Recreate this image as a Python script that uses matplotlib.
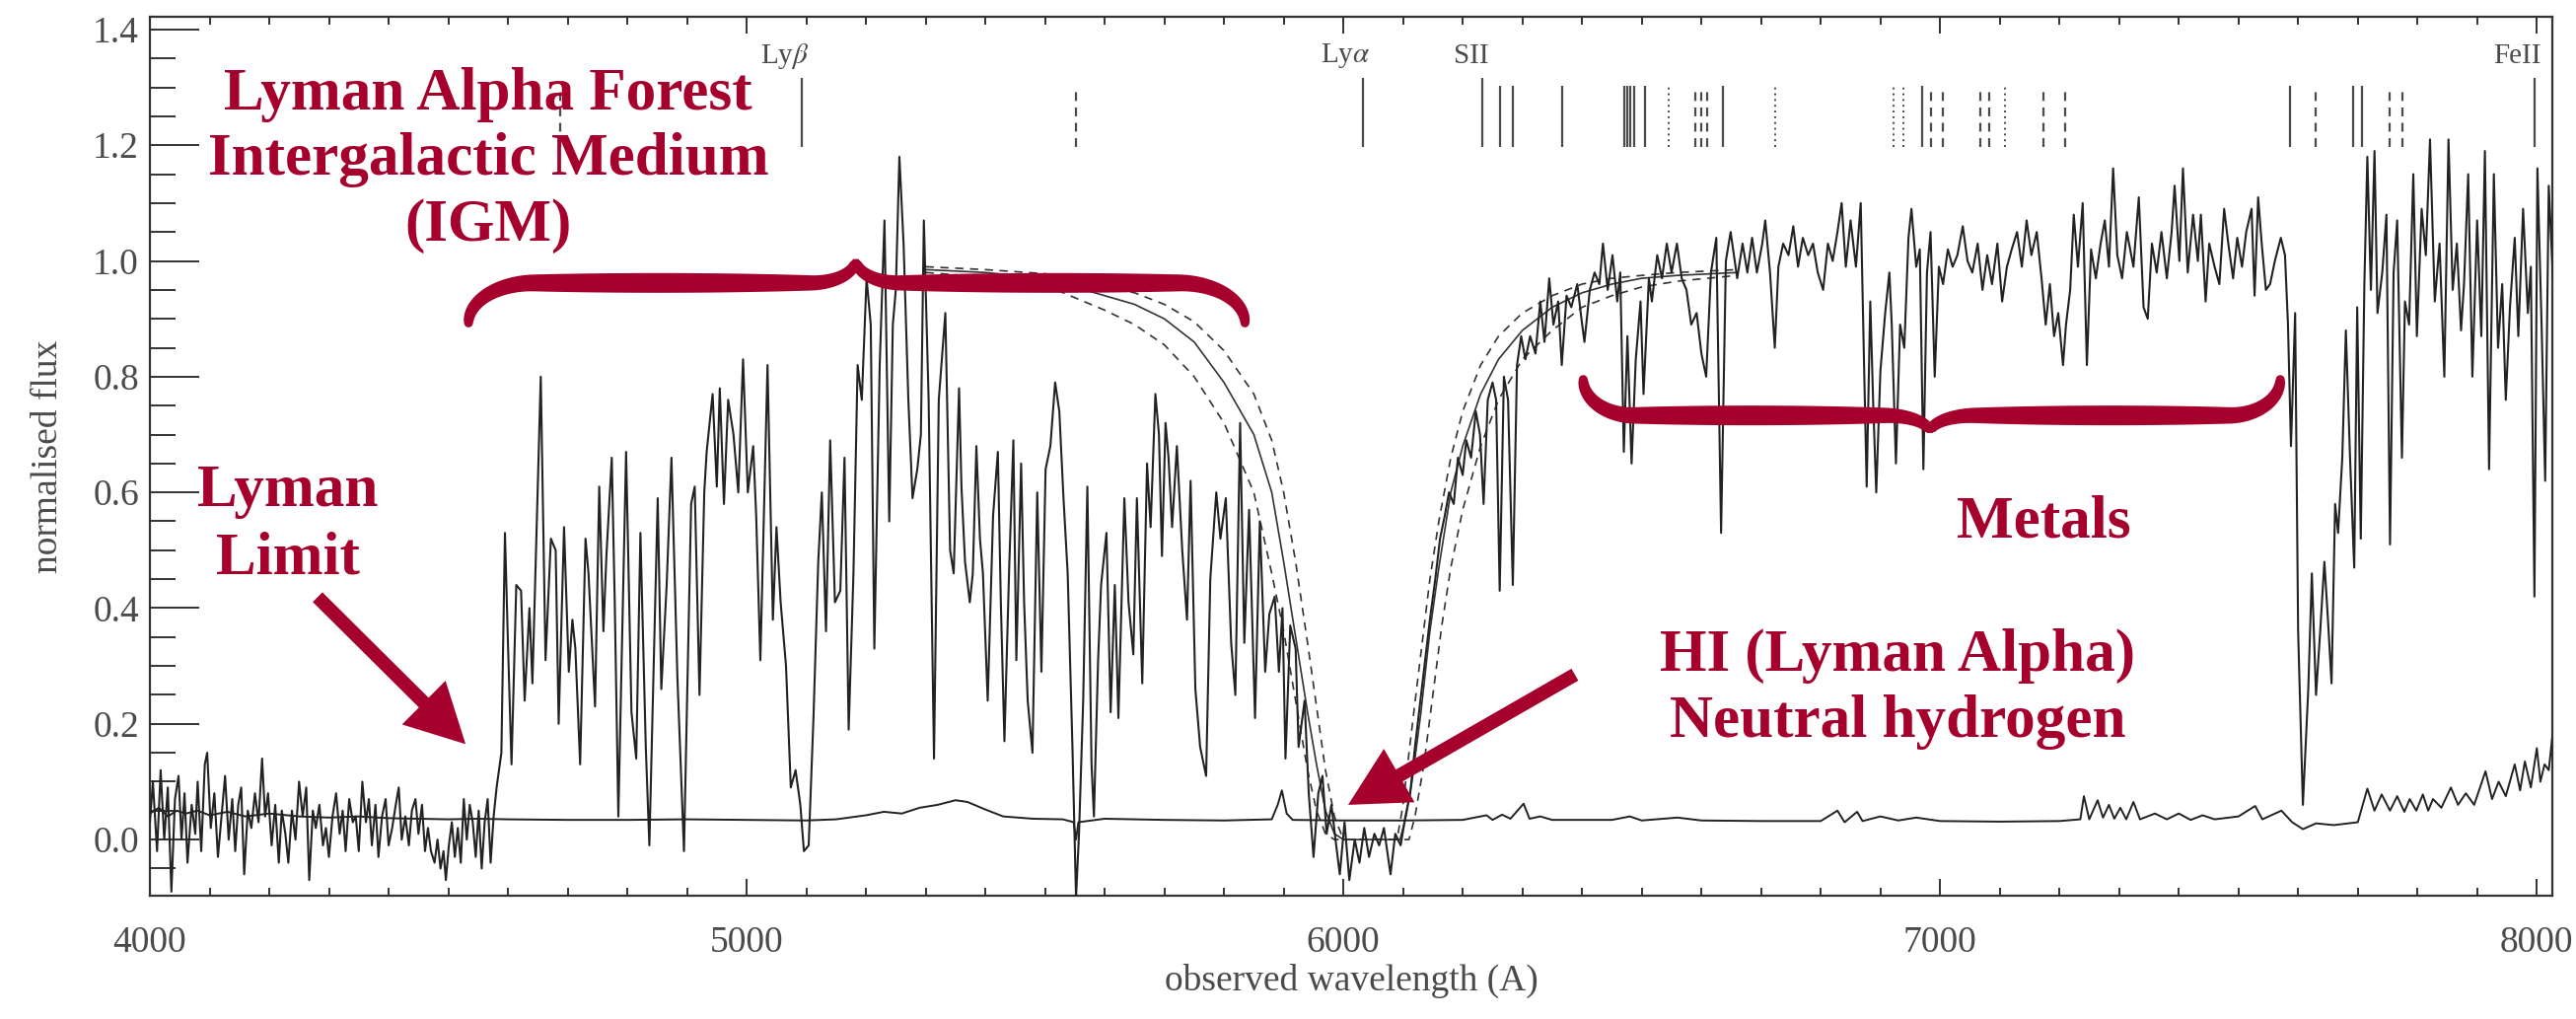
import numpy as np
import matplotlib
matplotlib.use('Agg')
import matplotlib.pyplot as plt
import matplotlib.ticker as mticker
from matplotlib.patches import Polygon, FancyArrowPatch

plt.rcParams['font.family'] = ['Liberation Serif', 'DejaVu Serif']
plt.rcParams['mathtext.fontset'] = 'stix'

# observed spectrum, (wavelength A, normalised flux)
blue_side = [(4000, 0.03), (4005, 0.10), (4012, -0.02), (4018, 0.12), (4024, 0.00), (4030, 0.09),
             (4036, -0.09), (4042, 0.07), (4048, 0.11), (4053, 0.00), (4058, 0.08), (4063, -0.04),
             (4070, 0.06), (4076, 0.01), (4080, 0.10), (4086, -0.02), (4092, 0.13), (4096, 0.15),
             (4102, 0.02), (4108, 0.08), (4114, -0.03), (4120, 0.04), (4126, 0.11), (4132, 0.00),
             (4138, 0.07), (4143, -0.02), (4148, 0.06), (4153, 0.09), (4158, -0.06), (4164, 0.05),
             (4170, 0.02), (4176, 0.08), (4182, 0.03), (4188, 0.14), (4193, 0.04), (4198, 0.08),
             (4204, -0.01), (4210, 0.06), (4216, -0.04), (4221, 0.05), (4227, 0.01), (4232, -0.04),
             (4238, 0.05), (4244, 0.00), (4250, 0.10), (4256, 0.04), (4262, 0.09), (4267, -0.07),
             (4273, 0.05), (4278, 0.02), (4284, 0.06), (4290, -0.01), (4295, 0.02), (4300, -0.03),
             (4306, 0.04), (4312, 0.08), (4318, 0.01), (4323, 0.05), (4328, -0.02), (4334, 0.07),
             (4340, 0.03), (4345, 0.04), (4350, -0.02), (4356, 0.10), (4362, 0.03), (4367, 0.07),
             (4372, -0.01), (4378, 0.06), (4383, -0.03), (4389, 0.04), (4395, 0.07), (4400, -0.01),
             (4406, 0.02), (4412, 0.06), (4417, 0.09), (4422, 0.00), (4428, 0.04), (4434, -0.01),
             (4439, 0.05), (4445, 0.07), (4450, 0.01), (4456, 0.06), (4461, -0.02), (4466, 0.02),
             (4471, -0.02), (4477, -0.04), (4482, 0.00), (4487, -0.05), (4492, -0.02), (4496, -0.07),
             (4501, -0.01), (4506, 0.03), (4511, -0.03), (4516, 0.02), (4521, -0.04), (4526, 0.07),
             (4531, 0.00), (4536, 0.06), (4541, 0.03), (4546, -0.03), (4551, 0.05), (4556, -0.05),
             (4561, 0.03), (4566, 0.07), (4571, -0.04), (4576, 0.04)]

forest = [(4581, 0.09), (4589, 0.15), (4595, 0.53), (4600, 0.34), (4606, 0.13), (4614, 0.44),
          (4622, 0.43), (4628, 0.24), (4636, 0.40), (4641, 0.27), (4655, 0.80), (4663, 0.31),
          (4672, 0.52), (4680, 0.50), (4685, 0.20), (4694, 0.54), (4702, 0.29), (4708, 0.38),
          (4713, 0.33), (4721, 0.13), (4730, 0.52), (4735, 0.46), (4746, 0.23), (4753, 0.61),
          (4760, 0.36), (4765, 0.49), (4774, 0.66), (4779, 0.41), (4785, 0.04), (4798, 0.67),
          (4807, 0.22), (4815, 0.14), (4822, 0.53), (4831, 0.16), (4837, -0.01), (4851, 0.59),
          (4857, 0.26), (4866, 0.44), (4874, 0.66), (4884, 0.28), (4895, -0.02), (4907, 0.58),
          (4913, 0.61), (4921, 0.25), (4929, 0.60), (4933, 0.67), (4943, 0.77), (4950, 0.61),
          (4955, 0.78), (4962, 0.58), (4969, 0.76), (4978, 0.70), (4986, 0.60), (4994, 0.83),
          (5002, 0.60), (5011, 0.68), (5016, 0.56), (5023, 0.31), (5035, 0.82), (5044, 0.38),
          (5050, 0.54), (5057, 0.41), (5066, 0.30), (5074, 0.09), (5082, 0.12), (5090, 0.06),
          (5096, -0.02), (5104, -0.01), (5112, 0.21), (5120, 0.48), (5126, 0.60), (5133, 0.36),
          (5140, 0.69), (5148, 0.41), (5157, 0.43), (5164, 0.66), (5171, 0.19), (5179, 0.46),
          (5186, 0.82), (5193, 0.76), (5201, 0.97), (5208, 0.89), (5214, 0.33), (5223, 0.82),
          (5231, 1.07), (5239, 0.55), (5245, 0.89), (5250, 0.95), (5256, 1.18), (5263, 1.03),
          (5271, 0.76), (5278, 0.59), (5286, 0.64), (5292, 0.70), (5297, 1.07), (5305, 0.76),
          (5314, 0.14), (5322, 0.76), (5333, 0.91), (5341, 0.50), (5347, 0.46), (5356, 0.78),
          (5360, 0.61), (5366, 0.48), (5374, 0.41), (5379, 0.46), (5385, 0.68), (5391, 0.52),
          (5396, 0.46), (5404, 0.24), (5413, 0.56), (5421, 0.67), (5426, 0.41), (5432, 0.17),
          (5440, 0.47), (5447, 0.69), (5452, 0.31), (5460, 0.65), (5465, 0.41), (5471, 0.24),
          (5479, 0.15), (5487, 0.60), (5494, 0.29), (5501, 0.64), (5509, 0.68), (5517, 0.79),
          (5524, 0.74), (5531, 0.59), (5538, 0.46), (5546, 0.16), (5552, -0.10), (5557, 0.01),
          (5564, 0.24), (5571, 0.61), (5578, 0.13), (5582, 0.04), (5589, 0.31), (5594, 0.44),
          (5603, 0.53), (5610, 0.22), (5617, 0.44), (5623, 0.21), (5633, 0.59), (5640, 0.41),
          (5648, 0.32), (5654, 0.59), (5663, 0.27), (5671, 0.65), (5677, 0.54), (5685, 0.77),
          (5691, 0.70), (5696, 0.49), (5702, 0.72), (5707, 0.66), (5713, 0.54), (5721, 0.68),
          (5730, 0.50), (5738, 0.38), (5744, 0.62), (5752, 0.26), (5760, 0.16), (5770, 0.11),
          (5777, 0.45), (5787, 0.60), (5794, 0.52), (5803, 0.59), (5812, 0.34), (5819, 0.25),
          (5827, 0.72), (5834, 0.34), (5842, 0.57), (5852, 0.21), (5860, 0.55), (5869, 0.29),
          (5876, 0.39), (5885, 0.42), (5892, 0.29), (5898, 0.40), (5903, 0.14), (5911, 0.37),
          (5920, 0.33), (5925, 0.16), (5935, 0.24), (5942, 0.08), (5950, -0.03), (5958, 0.08),
          (5965, 0.11), (5972, 0.01), (5980, 0.06)]

# damped Ly-alpha trough and the red side with metal lines
red_side = [(5988, -0.01), (5994, -0.06), (6002, 0.03), (6010, -0.07), (6019, 0.00), (6027, -0.04),
            (6035, 0.02), (6043, -0.03), (6052, 0.01), (6060, -0.01), (6068, 0.02), (6079, -0.06),
            (6087, 0.01), (6096, -0.01), (6104, 0.04), (6112, 0.08), (6120, 0.16), (6129, 0.24),
            (6137, 0.31), (6145, 0.38), (6154, 0.45), (6162, 0.52), (6170, 0.56), (6177, 0.60),
            (6185, 0.58), (6192, 0.66), (6200, 0.63), (6206, 0.69), (6214, 0.66), (6222, 0.74),
            (6229, 0.70), (6235, 0.58), (6242, 0.76), (6250, 0.79), (6256, 0.76), (6262, 0.43),
            (6269, 0.80), (6276, 0.76), (6284, 0.44), (6291, 0.82), (6298, 0.87), (6305, 0.83),
            (6313, 0.87), (6322, 0.84), (6330, 0.93), (6337, 0.86), (6345, 0.97), (6352, 0.89),
            (6360, 0.93), (6366, 0.82), (6374, 0.94), (6382, 0.92), (6392, 0.96), (6399, 0.90),
            (6404, 0.86), (6413, 0.95), (6421, 0.98), (6429, 0.96), (6435, 1.03), (6443, 0.95),
            (6451, 1.01), (6459, 0.93), (6464, 0.98), (6470, 0.67), (6476, 0.87), (6483, 0.65),
            (6490, 0.83), (6498, 0.93), (6503, 0.77), (6512, 0.97), (6517, 0.93), (6526, 1.01),
            (6534, 0.97), (6542, 1.03), (6550, 0.98), (6559, 1.03), (6567, 0.97), (6575, 0.95),
            (6583, 0.89), (6592, 0.91), (6600, 0.84), (6608, 0.80), (6616, 0.98), (6625, 1.04),
            (6633, 0.53), (6641, 1.00), (6649, 1.05), (6660, 0.97), (6669, 1.03), (6677, 0.98),
            (6685, 1.04), (6693, 0.98), (6702, 1.03), (6707, 1.07), (6715, 0.98), (6723, 0.85),
            (6729, 0.99), (6737, 1.03), (6746, 1.01), (6754, 1.06), (6762, 0.99), (6770, 1.04),
            (6779, 1.01), (6787, 1.03), (6795, 0.98), (6804, 0.95), (6812, 1.03), (6820, 1.00),
            (6828, 1.05), (6835, 1.10), (6842, 0.99), (6850, 1.07), (6859, 0.99), (6867, 1.10),
            (6872, 0.85), (6877, 0.61), (6883, 0.93), (6888, 0.75), (6893, 0.60), (6900, 0.81),
            (6908, 0.91), (6915, 0.98), (6919, 0.89), (6926, 0.65), (6933, 0.89), (6940, 0.85),
            (6947, 1.04), (6952, 1.09), (6960, 0.99), (6966, 1.02), (6972, 0.64), (6978, 0.98),
            (6984, 1.05), (6991, 0.80), (6998, 0.99), (7005, 0.96), (7013, 1.02), (7021, 0.99),
            (7029, 1.01), (7038, 1.06), (7046, 1.00), (7054, 0.98), (7063, 1.03), (7071, 0.95),
            (7079, 1.01), (7087, 0.96), (7096, 1.03), (7104, 0.93), (7112, 0.99), (7120, 1.02),
            (7129, 1.05), (7137, 0.99), (7145, 1.07), (7153, 1.01), (7162, 1.05), (7170, 0.97),
            (7177, 0.89), (7184, 0.96), (7191, 0.87), (7198, 0.91), (7206, 0.82), (7211, 0.89),
            (7218, 0.95), (7224, 1.08), (7231, 0.99), (7239, 1.10), (7246, 0.82), (7253, 1.02),
            (7261, 0.97), (7269, 1.03), (7276, 1.07), (7283, 0.99), (7290, 1.16), (7297, 1.01),
            (7305, 0.97), (7313, 1.05), (7324, 0.99), (7333, 1.11), (7341, 0.92), (7348, 0.90),
            (7355, 1.03), (7363, 0.98), (7371, 1.05), (7380, 0.97), (7388, 1.05), (7393, 1.13),
            (7401, 1.00), (7407, 1.16), (7415, 0.98), (7424, 1.08), (7432, 1.00), (7437, 1.08),
            (7445, 0.93), (7451, 1.03), (7460, 0.99), (7468, 0.96), (7476, 1.09), (7483, 1.03),
            (7491, 0.97), (7498, 1.04), (7506, 0.99), (7513, 1.05), (7522, 1.09), (7527, 0.94),
            (7533, 1.11), (7539, 1.03), (7546, 0.95), (7553, 0.96), (7561, 1.00), (7571, 1.04),
            (7578, 1.01), (7583, 0.89), (7588, 0.68), (7595, 0.91), (7600, 0.36), (7608, 0.06),
            (7617, 0.26), (7623, 0.46), (7630, 0.25), (7637, 0.36), (7644, 0.48), (7650, 0.38),
            (7656, 0.27), (7662, 0.58), (7667, 0.53), (7674, 0.66), (7680, 0.88), (7687, 0.66),
            (7694, 0.47), (7699, 0.92), (7705, 0.52), (7711, 0.96), (7716, 1.18), (7722, 0.95),
            (7728, 1.19), (7733, 0.91), (7741, 0.98), (7748, 1.08), (7754, 0.51), (7760, 0.98),
            (7766, 1.07), (7774, 0.66), (7779, 0.93), (7786, 0.89), (7793, 1.15), (7799, 0.87),
            (7807, 1.09), (7814, 1.01), (7821, 1.21), (7829, 0.93), (7837, 1.03), (7845, 0.80),
            (7852, 1.21), (7859, 0.95), (7866, 1.03), (7873, 0.88), (7878, 0.96), (7885, 1.15),
            (7892, 0.80), (7900, 1.07), (7907, 0.87), (7913, 1.19), (7920, 0.64), (7928, 1.15),
            (7935, 0.85), (7942, 0.96), (7948, 0.76), (7955, 0.92), (7963, 1.04), (7969, 0.87),
            (7977, 1.09), (7985, 0.91), (7990, 0.99), (7996, 0.42), (8001, 1.16), (8008, 0.89),
            (8014, 0.62), (8020, 1.13), (8027, 0.97)]

# 1-sigma error spectrum
error = [(4000, 0.045), (4015, 0.055), (4030, 0.04), (4045, 0.05), (4060, 0.045), (4080, 0.05),
         (4100, 0.042), (4130, 0.048), (4160, 0.04), (4200, 0.045), (4250, 0.04), (4300, 0.038),
         (4350, 0.04), (4400, 0.037), (4450, 0.036), (4500, 0.035), (4550, 0.036), (4600, 0.035),
         (4700, 0.034), (4800, 0.034), (4900, 0.035), (5000, 0.034), (5100, 0.033), (5150, 0.035),
         (5200, 0.042), (5230, 0.048), (5260, 0.045), (5290, 0.055), (5320, 0.06), (5350, 0.068),
         (5370, 0.065), (5400, 0.052), (5430, 0.04), (5480, 0.036), (5530, 0.035), (5548, 0.03),
         (5552, 0.0), (5556, 0.03), (5600, 0.036), (5700, 0.034), (5800, 0.033), (5880, 0.035),
         (5890, 0.06), (5897, 0.085), (5905, 0.045), (5915, 0.034), (6000, 0.033), (6100, 0.033),
         (6200, 0.034), (6240, 0.042), (6250, 0.034), (6266, 0.043), (6280, 0.036), (6302, 0.062),
         (6312, 0.036), (6330, 0.04), (6350, 0.034), (6450, 0.034), (6480, 0.04), (6500, 0.033),
         (6560, 0.038), (6600, 0.033), (6700, 0.032), (6800, 0.032), (6828, 0.05), (6840, 0.03),
         (6861, 0.048), (6870, 0.032), (6900, 0.04), (6930, 0.033), (6960, 0.038), (7000, 0.032),
         (7100, 0.031), (7200, 0.032), (7235, 0.035), (7241, 0.075), (7250, 0.035), (7264, 0.068),
         (7273, 0.038), (7283, 0.06), (7292, 0.036), (7302, 0.055), (7312, 0.035), (7324, 0.065),
         (7335, 0.035), (7360, 0.045), (7380, 0.035), (7400, 0.045), (7420, 0.034), (7440, 0.042),
         (7460, 0.035), (7500, 0.04), (7528, 0.058), (7540, 0.035), (7572, 0.05), (7590, 0.03),
         (7608, 0.018), (7630, 0.028), (7660, 0.025), (7700, 0.03), (7716, 0.088), (7728, 0.05),
         (7740, 0.078), (7754, 0.05), (7766, 0.075), (7778, 0.048), (7787, 0.07), (7798, 0.05),
         (7809, 0.078), (7818, 0.05), (7826, 0.07), (7840, 0.055), (7856, 0.09), (7868, 0.06),
         (7881, 0.08), (7895, 0.06), (7914, 0.118), (7925, 0.07), (7936, 0.1), (7948, 0.075),
         (7963, 0.13), (7972, 0.085), (7980, 0.135), (7990, 0.09), (8000, 0.158), (8006, 0.1),
         (8013, 0.13), (8020, 0.12), (8027, 0.188)]

# damped Ly-alpha fit (solid) and the +/- column density fits (dashed)
dla_fit = [(5300, 0.985), (5400, 0.98), (5500, 0.97), (5600, 0.94), (5650, 0.925), (5700, 0.90),
           (5750, 0.86), (5800, 0.79), (5850, 0.70), (5880, 0.60), (5900, 0.48), (5920, 0.35),
           (5940, 0.22), (5955, 0.13), (5970, 0.05), (5985, 0.01), (6000, 0.0), (6095, 0.0),
           (6105, 0.04), (6115, 0.10), (6130, 0.22), (6145, 0.36), (6160, 0.47), (6180, 0.60),
           (6200, 0.68), (6230, 0.77), (6260, 0.83), (6300, 0.88), (6350, 0.92), (6400, 0.945),
           (6450, 0.96), (6500, 0.97), (6560, 0.975), (6660, 0.98)]
dla_fit_low = [(5300, 0.99), (5400, 0.985), (5500, 0.978), (5600, 0.955), (5650, 0.945), (5700, 0.925),
               (5750, 0.895), (5800, 0.845), (5850, 0.77), (5880, 0.69), (5900, 0.60), (5920, 0.48),
               (5940, 0.34), (5955, 0.23), (5970, 0.12), (5985, 0.04), (6000, 0.0), (6090, 0.0),
               (6100, 0.06), (6110, 0.15), (6125, 0.28), (6145, 0.45), (6160, 0.55), (6180, 0.66),
               (6200, 0.74), (6230, 0.82), (6260, 0.87), (6300, 0.91), (6350, 0.94), (6400, 0.96),
               (6450, 0.97), (6500, 0.975), (6560, 0.98), (6660, 0.985)]
dla_fit_high = [(5300, 0.98), (5400, 0.972), (5500, 0.958), (5600, 0.915), (5650, 0.89), (5700, 0.855),
                (5750, 0.80), (5800, 0.72), (5850, 0.60), (5880, 0.46), (5900, 0.36), (5920, 0.24),
                (5940, 0.12), (5955, 0.05), (5970, 0.01), (5985, 0.0), (6110, 0.0), (6120, 0.04),
                (6135, 0.13), (6150, 0.25), (6165, 0.37), (6180, 0.47), (6200, 0.57), (6230, 0.68),
                (6260, 0.76), (6300, 0.83), (6350, 0.88), (6400, 0.92), (6450, 0.94), (6500, 0.955),
                (6560, 0.965), (6660, 0.975)]

# line identifications along the top
marks_solid = [5093, 6033, 6232, 6262, 6284, 6366, 6470, 6476, 6481, 6487, 6506, 6636, 6970,
               7587, 7692, 7707, 7996]
marks_dashed = [4688, 5552, 6590, 6600, 6610, 6985, 7005, 7068, 7082, 7173, 7209, 7629, 7754, 7774]
marks_dotted = [6545, 6723, 6922, 6939, 7109]
id_names = [r'Ly$\beta$', r'Ly$\alpha$', 'SII', 'FeII']
id_waves = [5093, 6033, 6232, 7996]

RED = '#A6002C'
GREY = '#4a4a4a'


def half_brace_outline(ax, xa, xb, v_tip, v_body, v_cusp, curl, hook, w_max, w_end):
    # centre line in data units, then widened in pixel space
    d = np.sign(xb - xa)
    t = np.linspace(0, np.pi / 2, 60)
    x1 = xa + d * curl * (1 - np.cos(t))
    y1 = v_tip + (v_body - v_tip) * np.sin(t)
    x2 = np.linspace(xa + d * curl, xb - d * hook, 80)[1:]
    y2 = np.full_like(x2, v_body)
    x3 = (xb - d * hook * (1 - np.sin(t)))[1:]
    y3 = (v_cusp + (v_body - v_cusp) * np.cos(t))[1:]
    pts = np.column_stack([np.r_[x1, x2, x3], np.r_[y1, y2, y3]])
    px = ax.transData.transform(pts)
    seg = np.hypot(*np.diff(px, axis=0).T)
    s = np.r_[0, np.cumsum(seg)] / seg.sum()
    width = w_end + (w_max - w_end) * np.clip(np.sin(np.pi * s), 0, 1) ** 0.6
    width[-8:] = np.minimum(width[-8:], np.linspace(width[-8], w_end * 0.6, 8))
    tang = np.gradient(px, axis=0)
    tang /= np.hypot(tang[:, 0], tang[:, 1])[:, None]
    normal = np.column_stack([-tang[:, 1], tang[:, 0]])
    left = px + normal * width[:, None] / 2
    right = px - normal * width[:, None] / 2
    # round cap at the outer tip
    ang = np.linspace(0, np.pi, 20)
    c0 = px[0]
    n0 = normal[0]
    t0 = -tang[0]
    cap = np.array([c0 + (np.cos(a) * n0 + np.sin(a) * t0) * w_end / 2 for a in ang])
    outline = np.vstack([left, right[::-1], cap[::-1]])
    outline = outline[np.isfinite(outline).all(axis=1)]
    return ax.transData.inverted().transform(outline)


def draw_brace(ax, x0, xc, x1, v_tip, v_body, v_cusp, curl, hook, w_max=20, w_end=9):
    for xa in (x0, x1):
        poly = half_brace_outline(ax, xa, xc, v_tip, v_body, v_cusp, curl, hook, w_max, w_end)
        ax.add_patch(Polygon(poly, closed=True, facecolor=RED, edgecolor='none', lw=0, zorder=6))


fig = plt.figure(figsize=(26.12, 10.33), dpi=100)
ax = fig.add_axes([152 / 2612, 1 - 908 / 1033, (2588 - 152) / 2612, (908 - 17) / 1033])
ax.set_xlim(4000, 8026)
ax.set_ylim(-0.097, 1.422)

spec = np.array(blue_side + forest + red_side)
ax.plot(spec[:, 0], spec[:, 1], color='#222222', lw=1.5, zorder=3)
err = np.array(error)
ax.plot(err[:, 0], err[:, 1], color='#222222', lw=1.4, zorder=3)

for fit, ls in ((dla_fit, '-'), (dla_fit_low, (0, (5, 4))), (dla_fit_high, (0, (5, 4)))):
    f = np.array(fit)
    ax.plot(f[:, 0], f[:, 1], color='#333333', lw=1.2, ls=ls, zorder=2)

# line identification ticks
ax.vlines(marks_solid, 1.197, [1.316 if w in id_waves else 1.302 for w in marks_solid],
          color=GREY, lw=1.6)
ax.vlines(marks_dashed, 1.197, 1.302, color=GREY, lw=1.6, linestyles=(0, (4, 3)))
ax.vlines(marks_dotted, 1.197, 1.302, color=GREY, lw=1.4, linestyles=(0, (1, 2)))
for name, w in zip(id_names, id_waves):
    ax.text(w + 12, 1.354, name, ha='right', va='center', fontsize=21, color=GREY)

# axes styling
ax.xaxis.set_major_locator(mticker.MultipleLocator(1000))
ax.xaxis.set_minor_locator(mticker.MultipleLocator(100))
ax.yaxis.set_major_locator(mticker.MultipleLocator(0.2))
ax.yaxis.set_minor_locator(mticker.MultipleLocator(0.05))
ax.yaxis.set_major_formatter(mticker.FormatStrFormatter('%.1f'))
ax.tick_params(axis='x', which='both', direction='in', top=True, bottom=True, color='#333333',
               width=1.4, labelsize=27, labelcolor=GREY, pad=22)
ax.tick_params(axis='x', which='major', length=12)
ax.tick_params(axis='x', which='minor', length=6)
ax.tick_params(axis='y', which='both', direction='in', left=True, right=False, color='#333333',
               width=1.4, labelsize=27, labelcolor=GREY, pad=8)
ax.tick_params(axis='y', which='major', length=36)
ax.tick_params(axis='y', which='minor', length=19)
for sp in ax.spines.values():
    sp.set_color('#333333')
    sp.set_linewidth(1.6)
ax.set_xlabel('observed wavelength (A)', fontsize=27, color=GREY, labelpad=3)
ax.set_ylabel('normalised flux', fontsize=27, color=GREY, labelpad=20)

# annotations
txt = dict(color=RED, fontsize=44, fontweight='bold', ha='center', va='baseline', zorder=7)
ax.text(4567, 1.262, 'Lyman Alpha Forest', **txt)
ax.text(4567, 1.149, 'Intergalactic Medium', **txt)
ax.text(4567, 1.035, '(IGM)', **txt)
ax.text(4231, 0.576, 'Lyman', **txt)
ax.text(4231, 0.459, 'Limit', **txt)
ax.text(7174, 0.522, 'Metals', **txt)
ax.text(6929, 0.292, 'HI (Lyman Alpha)', **txt)
ax.text(6929, 0.177, 'Neutral hydrogen', **txt)

arrow_style = 'simple,head_length=43,head_width=45,tail_width=10'
for tail, tip in (((4281, 0.419), (4529, 0.165)), ((6388, 0.285), (6008, 0.060))):
    ax.add_patch(FancyArrowPatch(tail, tip, arrowstyle=arrow_style, mutation_scale=1,
                                 color=RED, lw=0, shrinkA=0, shrinkB=0, zorder=7))

draw_brace(ax, 4534, 5183, 5835, 0.893, 0.962, 1.003, curl=110, hook=75)
draw_brace(ax, 6402, 6983, 7570, 0.795, 0.733, 0.703, curl=85, hook=75)

fig.savefig('out.png', dpi=100)
